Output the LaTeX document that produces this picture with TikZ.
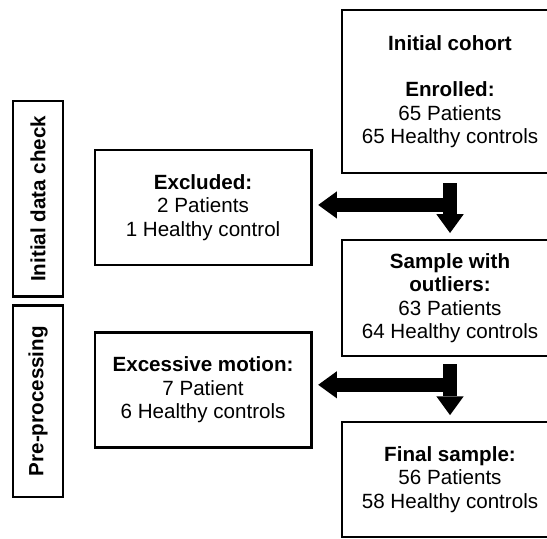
\documentclass[tikz,border=0pt]{standalone}
\usepackage{fontspec}
\setmainfont{Liberation Sans}
\usetikzlibrary{arrows.meta,positioning}

\begin{document}
\begin{tikzpicture}[>={Triangle[width=0.48cm,length=0.33cm,line width=0pt]},node distance=4cm,on grid,scale = 1,
        box/.style={draw,line width=1.35pt,align=center,inner sep=0pt,minimum width=3.8cm,minimum height=2.02cm,font=\fontsize{10.3}{11.7}\selectfont,execute at begin node={\rule{0pt}{10.3pt}}},
        sidebox/.style={draw,line width=1.35pt,rotate=90,inner sep=0pt,minimum height=0.88cm,font=\fontsize{10.3}{11.7}\selectfont\bfseries},
        fat/.style={->,line width=0.24cm}]

            \useasboundingbox (0,0) rectangle (9.612,-9.454);
            \clip (0,0) rectangle (9.612,-9.454);

            \node (0) at (7.908,-1.608) [box,minimum height=2.86cm]
                {
                    \textbf{Initial cohort}\\[11.7pt]
                    \textbf{Enrolled:}\\
                    65 Patients\\
                    65 Healthy controls
                };
            \node (2) [below of=0,yshift=0.37cm,box,minimum height=2.04cm]
            {
                \textbf{Sample with}\\
                \textbf{outliers:}\\
                63 Patients\\
                64 Healthy controls
            };
            \node (4) [below of=2,yshift=0.81cm,box]
            {
                \textbf{Final sample:}\\
                56 Patients\\
                58 Healthy controls
            };
            \node (1) [left of=0,xshift=-0.34cm,yshift=-2.04cm,box]
            {
                \textbf{Excluded:}\\
                2 Patients\\
                1 Healthy control
            };
            \node (3) [left of=4,xshift=-0.34cm,yshift=1.58cm,box]
            {
                \textbf{Excessive motion:}\\
                7 Patient\\
                6 Healthy controls
            };
            \node (5) [left of=1,xshift=1.10cm,yshift=0.155cm,sidebox,minimum width=3.44cm] {Initial data check};
            \node (6) [left of=3,xshift=1.10cm,yshift=-0.20cm,sidebox,minimum width=3.37cm] {Pre-processing};

            \coordinate (0a) at ([xshift=0.12cm,yshift=-0.54cm]0.south);
            \coordinate (2a) at ([xshift=0.12cm,yshift=-0.48cm]2.south);

            \draw[fat,shorten <=0.16cm,shorten >=0.1cm] (0) -- (2);
            \draw[fat,shorten >=0.1cm] (0a) -- (0a -| 1.east);
            \draw[fat,shorten <=0.12cm,shorten >=0.1cm] (2) -- (4);
            \draw[fat,shorten >=0.1cm] (2a) -- (2a -| 3.east);

        \end{tikzpicture}
\end{document}
